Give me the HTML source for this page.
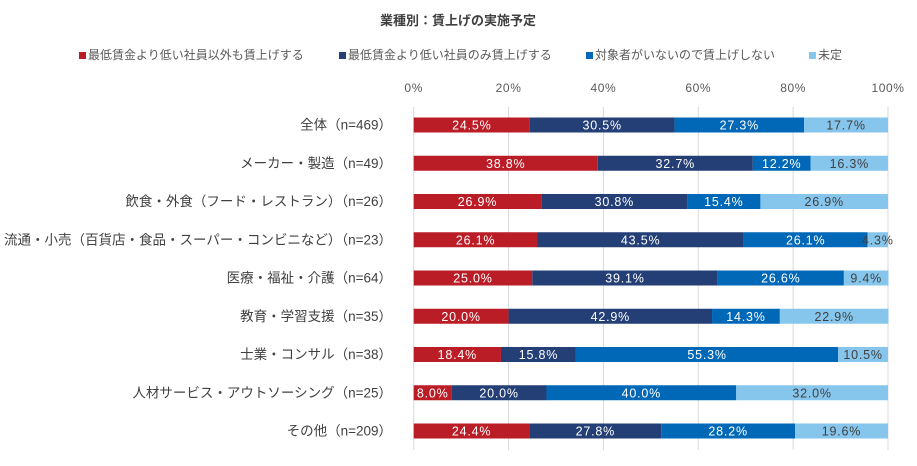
<!DOCTYPE html>
<html><head><meta charset="utf-8">
<style>
body{margin:0;background:#fff;width:917px;height:461px;overflow:hidden;font-family:"Liberation Sans","Noto Sans CJK JP",sans-serif;}
svg text{font-family:"Liberation Sans","Noto Sans CJK JP",sans-serif;}
</style></head><body>
<svg id="chart" width="917" height="461" xmlns="http://www.w3.org/2000/svg">
<text x="458" y="25" text-anchor="middle" font-size="13" font-weight="bold" fill="#404040">業種別：賃上げの実施予定</text>
<g id="legend"></g>
<g id="grid"></g>
<g id="bars"></g>
<g id="labels"></g>
</svg>
<script>
const categories=["全体（n=469）","メーカー・製造（n=49）","飲食・外食（フード・レストラン）（n=26）","流通・小売（百貨店・食品・スーパー・コンビニなど）（n=23）","医療・福祉・介護（n=64）","教育・学習支援（n=35）","士業・コンサル（n=38）","人材サービス・アウトソーシング（n=25）","その他（n=209）"];
const seriesNames=["最低賃金より低い社員以外も賃上げする","最低賃金より低い社員のみ賃上げする","対象者がいないので賃上げしない","未定"];
const s1=[24.5,38.8,26.9,26.1,25.0,20.0,18.4,8.0,24.4];
const s2=[30.5,32.7,30.8,43.5,39.1,42.9,15.8,20.0,27.8];
const s3=[27.3,12.2,15.4,26.1,26.6,14.3,55.3,40.0,28.2];
const s4=[17.7,16.3,26.9,4.3,9.4,22.9,10.5,32.0,19.6];
const ticks=[0,20,40,60,80,100];
const colors=["#BB1D27","#243F75","#0068B7","#86C5EC"];
const textColors=["#fff","#fff","#fff","#404040"];
const NS="http://www.w3.org/2000/svg";
const X0=413.7,X1=888,Y0=125,DY=38.25,BH=15;
const xs=v=>X0+(X1-X0)*v/100;
const ys=i=>Y0+DY*i;
function mk(tag,attrs,parent){const e=document.createElementNS(NS,tag);for(const k in attrs)e.setAttribute(k,attrs[k]);parent.appendChild(e);return e;}
const grid=document.getElementById('grid');
ticks.forEach(t=>{
  const l=mk('line',{x1:xs(t),x2:xs(t),y1:107,y2:450,stroke:'#d9d9d9','stroke-width':1},grid);
  
  
  const tx=mk('text',{x:xs(t),y:92,'text-anchor':'middle','font-size':12,'letter-spacing':0.6,fill:'#595959'},grid);
  tx.textContent=t+'%';
  
  
});
const leg=document.getElementById('legend');
const legX=[79,339,586,809];
seriesNames.forEach((n,i)=>{
  const r=mk('rect',{x:legX[i],y:52,width:7,height:7,fill:colors[i]},leg);
  
  
  const t=mk('text',{x:legX[i]+9,y:59,'font-size':12,fill:'#595959'},leg);
  t.textContent=n;
  
  
});
const bars=document.getElementById('bars'),labs=document.getElementById('labels');
const series=[s1,s2,s3,s4];
categories.forEach((c,i)=>{
  const y=ys(i);
  const t=mk('text',{x:392,y:y+4.5,'text-anchor':'end','font-size':13.5,fill:'#404040'},labs);
  t.textContent=c;
  
  
  let acc=0;
  series.forEach((s,j)=>{
    const v=s[i];
    const r=mk('rect',{x:xs(acc),y:y-BH/2,width:xs(acc+v)-xs(acc),height:BH,fill:colors[j]},bars);
    
    
    const vt=mk('text',{x:(xs(acc)+xs(acc+v))/2,y:y+4.5,'text-anchor':'middle','font-size':12.5,'letter-spacing':0.8,fill:textColors[j]},bars);
    vt.textContent=v.toFixed(1)+'%';
    
    
    acc+=v;
  });
});
</script>
</body></html>
